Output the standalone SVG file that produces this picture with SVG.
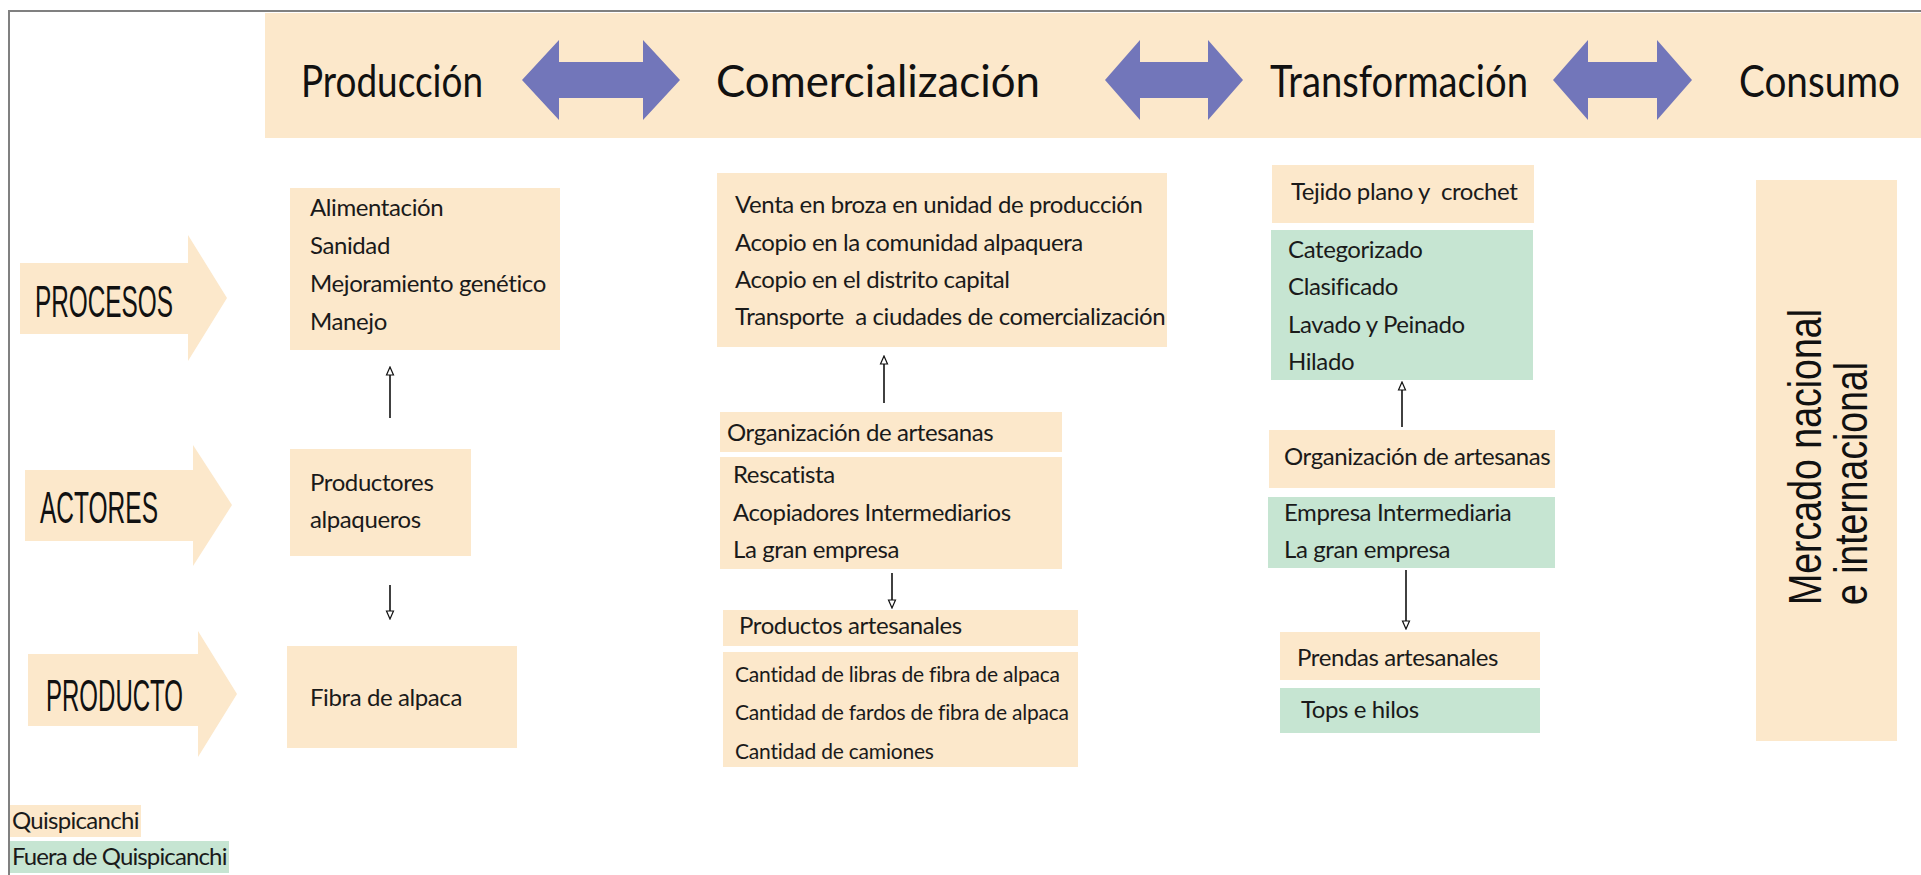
<svg xmlns="http://www.w3.org/2000/svg" width="1921" height="875" viewBox="0 0 1921 875">
<defs>
<style>
.bg{fill:#FCE8CB}
.gr{fill:#C6E5D2}
.dbl{fill:#7276BA}
.hd{font-family:Lato,"Open Sans",sans-serif;font-size:44px;fill:#111}
.lbl{font-family:"Liberation Sans Narrow","Liberation Sans",Arial,sans-serif;font-size:44px;fill:#111}
.t{font-family:Lato,"Open Sans",sans-serif;font-size:24px;letter-spacing:-0.4px;fill:#1a1a1a}
.ts{font-size:21px;letter-spacing:-0.2px}
.con{stroke:#111;stroke-width:1.6;fill:none}
.vt{font-family:"Liberation Sans Narrow","Liberation Sans",Arial,sans-serif;font-size:46px;fill:#111}
.frame{stroke:#808080;stroke-width:2;fill:none}
</style>
<marker id="ah" markerWidth="10" markerHeight="10" refX="8" refY="5" orient="auto" markerUnits="userSpaceOnUse" viewBox="0 0 10 10"><path d="M1,1.5 L9,5 L1,8.5 Z" fill="#fff" stroke="#111" stroke-width="1.2"/></marker>
</defs>
<rect width="1921" height="875" fill="#fff"/>
<path class="frame" d="M9,875 V11 H1921"/>

<g id="header">
<rect class="bg" x="265" y="13" width="1656" height="125"/>
<text class="hd" x="301" y="97" textLength="182" lengthAdjust="spacingAndGlyphs">Producción</text>
<text class="hd" x="716" y="97" textLength="324" lengthAdjust="spacingAndGlyphs">Comercialización</text>
<text class="hd" x="1270" y="97" textLength="258" lengthAdjust="spacingAndGlyphs">Transformación</text>
<text class="hd" x="1739" y="97" textLength="161" lengthAdjust="spacingAndGlyphs">Consumo</text>
<polygon class="dbl" points="522,80 559,40 559,62 643,62 643,40 680,80 643,120 643,98 559,98 559,120"/>
<polygon class="dbl" points="1105,80 1140,40 1140,62 1208,62 1208,40 1243,80 1208,120 1208,98 1140,98 1140,120"/>
<polygon class="dbl" points="1553,80 1588,40 1588,62 1657,62 1657,40 1692,80 1657,120 1657,98 1588,98 1588,120"/>
</g>

<g id="row-procesos">
<polygon class="bg" points="20,263 188,263 188,235 227,298 188,361 188,334 20,334"/>
<text class="lbl" x="35" y="317" textLength="138" lengthAdjust="spacingAndGlyphs">PROCESOS</text>
</g>
<g id="row-actores">
<polygon class="bg" points="25,470 193,470 193,445 232,505 193,566 193,541 25,541"/>
<text class="lbl" x="40" y="523" textLength="118" lengthAdjust="spacingAndGlyphs">ACTORES</text>
</g>
<g id="row-producto">
<polygon class="bg" points="28,654 198,654 198,631 237,694 198,757 198,726 28,726"/>
<text class="lbl" x="46" y="711" textLength="137" lengthAdjust="spacingAndGlyphs">PRODUCTO</text>
</g>

<g id="node-prod-procesos">
<rect class="bg" x="290" y="188" width="270" height="162"/>
<text class="t" x="310" y="216">Alimentación</text>
<text class="t" x="310" y="254">Sanidad</text>
<text class="t" x="310" y="292">Mejoramiento genético</text>
<text class="t" x="310" y="330">Manejo</text>
</g>
<g id="node-prod-actores">
<rect class="bg" x="290" y="449" width="181" height="107"/>
<text class="t" x="310" y="491">Productores</text>
<text class="t" x="310" y="528">alpaqueros</text>
</g>
<g id="node-prod-producto">
<rect class="bg" x="287" y="646" width="230" height="102"/>
<text class="t" x="310" y="706">Fibra de alpaca</text>
</g>

<g id="node-com-procesos">
<rect class="bg" x="717" y="173" width="450" height="174"/>
<text class="t" x="735" y="213">Venta en broza en unidad de producción</text>
<text class="t" x="735" y="251">Acopio en la comunidad alpaquera</text>
<text class="t" x="735" y="288">Acopio en el distrito capital</text>
<text class="t" x="735" y="325" xml:space="preserve">Transporte  a ciudades de comercialización</text>
</g>
<g id="node-com-org">
<rect class="bg" x="720" y="412" width="342" height="40"/>
<text class="t" x="727" y="441">Organización de artesanas</text>
</g>
<g id="node-com-actores">
<rect class="bg" x="720" y="457" width="342" height="112"/>
<text class="t" x="733" y="483">Rescatista</text>
<text class="t" x="733" y="521">Acopiadores Intermediarios</text>
<text class="t" x="733" y="558">La gran empresa</text>
</g>
<g id="node-com-prodart">
<rect class="bg" x="723" y="610" width="355" height="36"/>
<text class="t" x="739" y="634">Productos artesanales</text>
</g>
<g id="node-com-producto">
<rect class="bg" x="723" y="652" width="355" height="115"/>
<text class="t ts" x="735" y="682">Cantidad de libras de fibra de alpaca</text>
<text class="t ts" x="735" y="720">Cantidad de fardos de fibra de alpaca</text>
<text class="t ts" x="735" y="759">Cantidad de camiones</text>
</g>

<g id="node-tra-tejido">
<rect class="bg" x="1272" y="165" width="262" height="58"/>
<text class="t" x="1291" y="200" xml:space="preserve">Tejido plano y  crochet</text>
</g>
<g id="node-tra-procesos">
<rect class="gr" x="1271" y="230" width="262" height="150"/>
<text class="t" x="1288" y="258">Categorizado</text>
<text class="t" x="1288" y="295">Clasificado</text>
<text class="t" x="1288" y="333">Lavado y Peinado</text>
<text class="t" x="1288" y="370">Hilado</text>
</g>
<g id="node-tra-org">
<rect class="bg" x="1269" y="430" width="286" height="58"/>
<text class="t" x="1284" y="465">Organización de artesanas</text>
</g>
<g id="node-tra-actores">
<rect class="gr" x="1268" y="497" width="287" height="71"/>
<text class="t" x="1284" y="521">Empresa Intermediaria</text>
<text class="t" x="1284" y="558">La gran empresa</text>
</g>
<g id="node-tra-prendas">
<rect class="bg" x="1280" y="632" width="260" height="48"/>
<text class="t" x="1297" y="666">Prendas artesanales</text>
</g>
<g id="node-tra-tops">
<rect class="gr" x="1280" y="688" width="260" height="45"/>
<text class="t" x="1301" y="718">Tops e hilos</text>
</g>

<g id="node-consumo">
<rect class="bg" x="1756" y="180" width="141" height="561"/>
<text class="vt" transform="translate(1821,605) rotate(-90)" textLength="296" lengthAdjust="spacingAndGlyphs">Mercado nacional</text>
<text class="vt" transform="translate(1867,605) rotate(-90)" textLength="243" lengthAdjust="spacingAndGlyphs">e internacional</text>
</g>

<g id="legend">
<rect class="bg" x="10" y="805" width="131" height="32"/>
<text class="t" x="12" y="829" textLength="127">Quispicanchi</text>
<rect class="gr" x="10" y="841" width="219" height="32"/>
<text class="t" x="12" y="865" textLength="215">Fuera de Quispicanchi</text>
</g>

<g id="connectors">
<line class="con" x1="390" y1="418" x2="390" y2="368" marker-end="url(#ah)"/>
<line class="con" x1="390" y1="585" x2="390" y2="618" marker-end="url(#ah)"/>
<line class="con" x1="884" y1="403" x2="884" y2="357" marker-end="url(#ah)"/>
<line class="con" x1="892" y1="573" x2="892" y2="607" marker-end="url(#ah)"/>
<line class="con" x1="1402" y1="427" x2="1402" y2="383" marker-end="url(#ah)"/>
<line class="con" x1="1406" y1="570" x2="1406" y2="628" marker-end="url(#ah)"/>
</g>
</svg>
